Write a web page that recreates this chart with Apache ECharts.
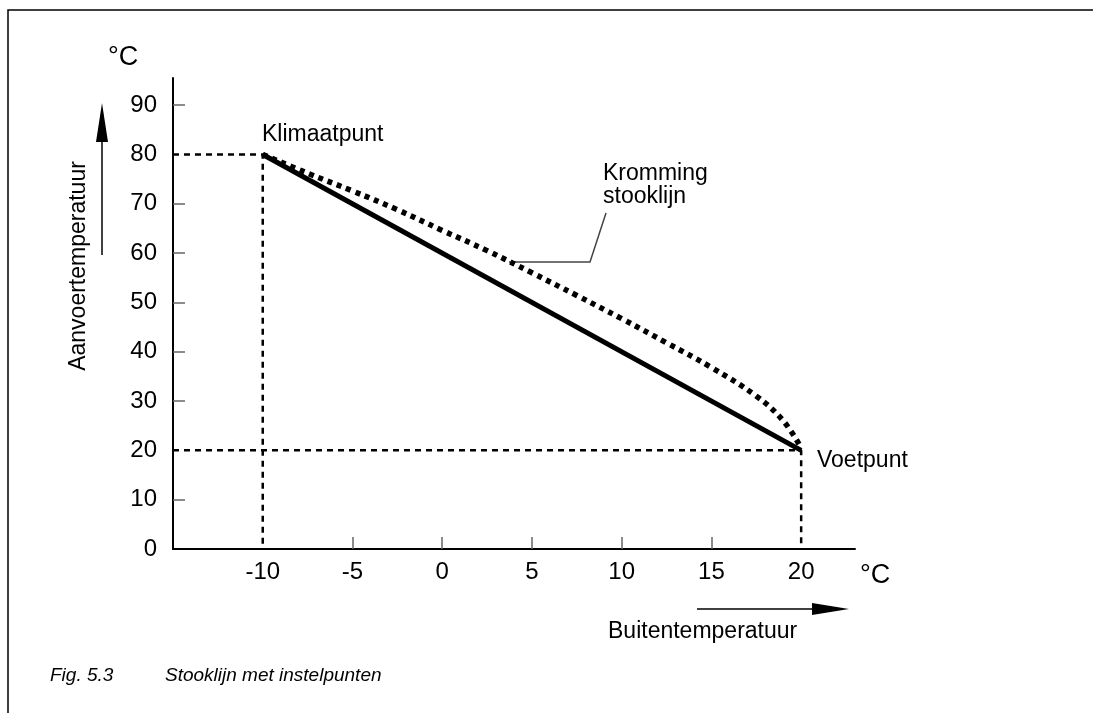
<!DOCTYPE html>
<html>
<head>
<meta charset="utf-8">
<title>Stooklijn met instelpunten</title>
<script src="https://cdn.jsdelivr.net/npm/echarts@6/dist/echarts.min.js"></script>
<style>
  html, body { margin: 0; padding: 0; background: #fff; }
  #chart { width: 1093px; height: 713px; }
</style>
</head>
<body>
<div id="chart"></div>
<script>
// instelpunten
const klimaatpunt = [-10, 80];
const voetpunt = [20, 20];

const curveX = [-10, -7.5, -5, -2.5, 0, 2.5, 5, 7.5, 10, 12.5, 15, 17.5, 19, 20];
const curveY = [80, 76.2, 72.6, 68.8, 64.6, 60.5, 56.0, 51.4, 46.7, 41.8, 36.8, 31.0, 26.0, 20.5];

// ticks en labels
const xLabels = [-10, -5, 0, 5, 10, 15, 20];
const xTicks = [-5, 0, 5, 10, 15];
const yLabels = [0, 10, 20, 30, 40, 50, 60, 70, 80, 90];
const yTicks = [10, 30, 40, 50, 60, 70, 90];

const X_MIN = -15, X_MAX = 23, Y_MIN = 0, Y_MAX = 95.5;
const FONT = "'Liberation Sans', Arial, sans-serif";

const chartDom = document.getElementById('chart');
const myChart = echarts.init(chartDom);

const curveData = curveX.map((x, i) => [x, curveY[i]]);

const option = {
  animation: false,
  backgroundColor: '#fff',
  grid: { left: 173, right: 238, top: 78, bottom: 164, containLabel: false },
  xAxis: {
    type: 'value',
    min: X_MIN,
    max: X_MAX,
    interval: 5,
    splitLine: { show: false },
    axisLine: { onZero: false, lineStyle: { color: '#000', width: 2 } },
    axisTick: { show: true, inside: true, length: 12, customValues: xTicks, lineStyle: { color: '#666', width: 1.5 } },
    axisLabel: { customValues: xLabels, color: '#000', fontSize: 24, fontFamily: FONT, margin: 11 }
  },
  yAxis: {
    type: 'value',
    min: Y_MIN,
    max: Y_MAX,
    interval: 10,
    splitLine: { show: false },
    axisLine: { show: true, onZero: false, lineStyle: { color: '#000', width: 2 } },
    axisTick: { show: true, inside: true, length: 12, customValues: yTicks, lineStyle: { color: '#666', width: 1.5 } },
    axisLabel: { customValues: yLabels, color: '#000', fontSize: 24, fontFamily: FONT, margin: 16 }
  },
  series: [
    {
      // hulplijnen klimaatpunt
      type: 'line',
      data: [[X_MIN, klimaatpunt[1]], klimaatpunt, [klimaatpunt[0], 0]],
      symbol: 'none',
      lineStyle: { color: '#000', width: 2.5, type: [6, 5] },
      z: 1
    },
    {
      // hulplijnen voetpunt
      type: 'line',
      data: [[X_MIN, voetpunt[1]], voetpunt, [voetpunt[0], 0]],
      symbol: 'none',
      lineStyle: { color: '#000', width: 2.5, type: [6, 5] },
      z: 1
    },
    {
      // gekromde stooklijn
      type: 'line',
      data: curveData,
      smooth: 0.4,
      symbol: 'none',
      lineStyle: { color: '#000', width: 5.5, type: [5, 5], cap: 'butt' },
      z: 2
    },
    {
      // rechte stooklijn
      type: 'line',
      data: [klimaatpunt, voetpunt],
      symbol: 'none',
      lineStyle: { color: '#000', width: 5 },
      z: 3
    }
  ],
  graphic: [
    // kader
    { type: 'polyline', shape: { points: [[8, 713], [8, 10], [1093, 10]] }, style: { stroke: '#000', lineWidth: 1.5, fill: null } },
    // eenheden
    { type: 'text', x: 108, y: 58, style: { text: '°C', font: '27px ' + FONT, fill: '#000', textVerticalAlign: 'middle' } },
    { type: 'text', x: 860, y: 576, style: { text: '°C', font: '27px ' + FONT, fill: '#000', textVerticalAlign: 'middle' } },
    // pijl y
    { type: 'line', shape: { x1: 102, y1: 255, x2: 102, y2: 140 }, style: { stroke: '#000', lineWidth: 1.5 } },
    { type: 'polygon', shape: { points: [[102, 103], [96, 142], [108, 142]] }, style: { fill: '#000' } },
    { type: 'text', x: 79, y: 266, rotation: Math.PI / 2,
      style: { text: 'Aanvoertemperatuur', font: '23px ' + FONT, fill: '#000', textAlign: 'center', textVerticalAlign: 'middle' } },
    // pijl x
    { type: 'line', shape: { x1: 697, y1: 609, x2: 815, y2: 609 }, style: { stroke: '#000', lineWidth: 1.5 } },
    { type: 'polygon', shape: { points: [[849, 609], [812, 603], [812, 615]] }, style: { fill: '#000' } },
    { type: 'text', x: 608, y: 632, style: { text: 'Buitentemperatuur', font: '23px ' + FONT, fill: '#000', textVerticalAlign: 'middle' } },
    // annotaties
    { type: 'text', x: 262, y: 135, style: { text: 'Klimaatpunt', font: '23px ' + FONT, fill: '#000', textVerticalAlign: 'middle' } },
    { type: 'text', x: 817, y: 461, style: { text: 'Voetpunt', font: '23px ' + FONT, fill: '#000', textVerticalAlign: 'middle' } },
    { type: 'text', x: 603, y: 174, style: { text: 'Kromming', font: '23px ' + FONT, fill: '#000', textVerticalAlign: 'middle' } },
    { type: 'text', x: 603, y: 197, style: { text: 'stooklijn', font: '23px ' + FONT, fill: '#000', textVerticalAlign: 'middle' } },
    { type: 'polyline', shape: { points: [[509, 262], [590, 262], [606, 213]] }, style: { stroke: '#444', lineWidth: 1.5, fill: null } },
    // onderschrift
    { type: 'text', x: 50, y: 676, style: { text: 'Fig. 5.3', font: 'italic 19px ' + FONT, fill: '#000', textVerticalAlign: 'middle' } },
    { type: 'text', x: 165, y: 676, style: { text: 'Stooklijn met instelpunten', font: 'italic 19px ' + FONT, fill: '#000', textVerticalAlign: 'middle' } }
  ]
};

myChart.setOption(option);

window.addEventListener('resize', () => {
  myChart.resize();
});
</script>
</body>
</html>
